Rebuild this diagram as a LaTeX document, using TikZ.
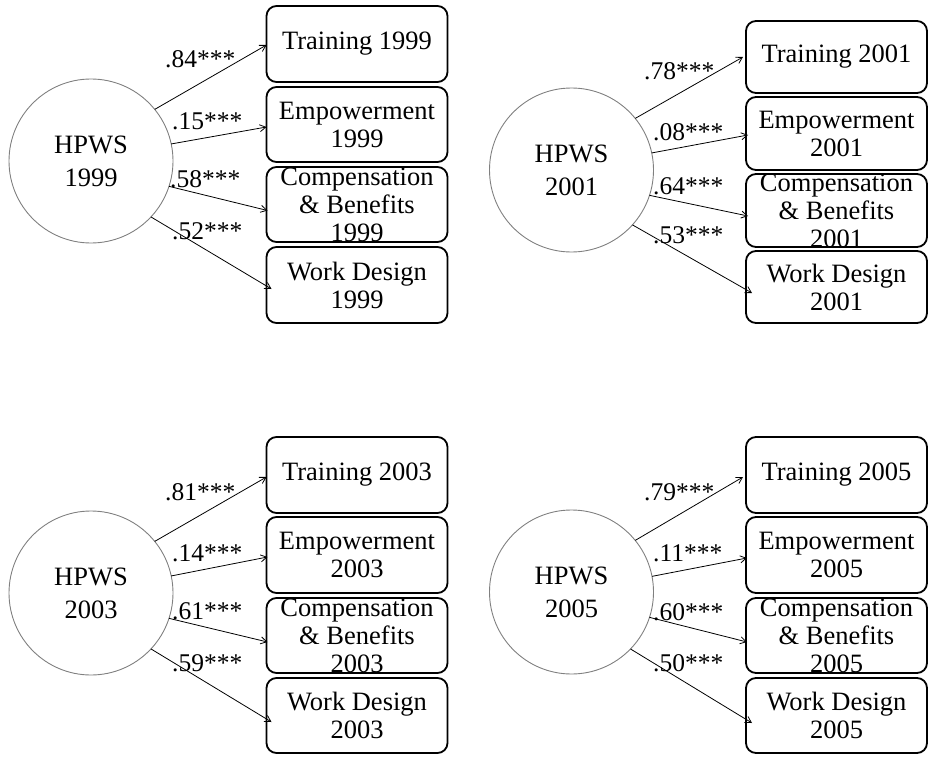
\documentclass[tikz,border=0pt]{standalone}
\usepackage{fontspec}
\setmainfont{Liberation Serif}
\usetikzlibrary{arrows.meta}
\begin{document}
\begin{tikzpicture}[x=1pt,y=-1pt,
  latent/.style={circle, draw=black!50, line width=0.9pt, fill=white,
    minimum size=164pt, inner sep=0pt, outer sep=0pt},
  indicator/.style={draw, rounded corners=10pt, line width=1.8pt,
    minimum width=181pt, inner sep=0pt, outer sep=0pt},
  boxtext/.style={align=center, font=\fontsize{26.5}{28}\selectfont, inner sep=0pt},
  lattext/.style={align=center, font=\fontsize{26.5}{33}\selectfont, inner sep=0pt},
  coef/.style={anchor=base west, font=\fontsize{25.5}{28}\selectfont, inner sep=0pt},
  load/.style={-{Straight Barb[length=6pt,width=7pt]}, line width=0.8pt}
]
\useasboundingbox (0,0) rectangle (934,765);

% ---------- 1999 ----------
\node[latent] (p1c) at (91,161) {};
\node[lattext] (p1ct) at (p1c) {HPWS\\1999};
\node[indicator, minimum height=76pt] (p1t) at (357,44) {};
\node[indicator, minimum height=75pt] (p1e) at (357,124.5) {};
\node[indicator, minimum height=75pt] (p1k) at (357,204.5) {};
\node[indicator, minimum height=76pt] (p1w) at (357,285) {};
\node[boxtext] (p1tt) at (p1t) {Training 1999};
\node[boxtext] (p1et) at (p1e) {Empowerment\\1999};
\node[boxtext] (p1kt) at (p1k) {Compensation\\\& Benefits\\1999};
\node[boxtext] (p1wt) at (p1w) {Work Design\\1999};
\draw[load] (p1c.39) -- ([yshift=-1pt]p1t.west);
\draw[load] (p1c.12) -- ([yshift=-2.5pt]p1e.west);
\draw[load] (p1c.-18) -- ([xshift=1pt,yshift=-6pt]p1k.west);
\draw[load] (p1c.-43) -- ([xshift=5pt,yshift=-4pt]p1w.west);
\node[coef] (p1l1) at (165,68) {.84***};
\node[coef] (p1l2) at (172,129) {.15***};
\node[coef] (p1l3) at (170,187) {.58***};
\node[coef] (p1l4) at (172,239) {.52***};

% ---------- 2001 ----------
\node[latent] (p2c) at (571.5,170) {};
\node[lattext] (p2ct) at (p2c) {HPWS\\2001};
\node[indicator, minimum height=72pt] (p2t) at (836.5,57) {};
\node[indicator, minimum height=73pt] (p2e) at (836.5,133.5) {};
\node[indicator, minimum height=73pt] (p2k) at (836.5,210.5) {};
\node[indicator, minimum height=72pt] (p2w) at (836.5,287) {};
\node[boxtext] (p2tt) at (p2t) {Training 2001};
\node[boxtext] (p2et) at (p2e) {Empowerment\\2001};
\node[boxtext] (p2kt) at (p2k) {Compensation\\\& Benefits\\2001};
\node[boxtext] (p2wt) at (p2w) {Work Design\\2001};
\draw[load] (p2c.39) -- ([xshift=-3pt]p2t.west);
\draw[load] (p2c.12) -- ([xshift=2pt,yshift=-1.5pt]p2e.west);
\draw[load] (p2c.-18) -- ([xshift=2pt,yshift=-5.5pt]p2k.west);
\draw[load] (p2c.-42) -- ([xshift=6pt,yshift=-6pt]p2w.west);
\node[coef] (p2l1) at (644,80) {.78***};
\node[coef] (p2l2) at (653,140) {.08***};
\node[coef] (p2l3) at (653,194) {.64***};
\node[coef] (p2l4) at (653,243) {.53***};

% ---------- 2003 ----------
\node[latent] (p3c) at (91,593) {};
\node[lattext] (p3ct) at (p3c) {HPWS\\2003};
\node[indicator, minimum height=76pt] (p3t) at (357,475) {};
\node[indicator, minimum height=76pt] (p3e) at (357,555) {};
\node[indicator, minimum height=75pt] (p3k) at (357,635.5) {};
\node[indicator, minimum height=75pt] (p3w) at (357,715.5) {};
\node[boxtext] (p3tt) at (p3t) {Training 2003};
\node[boxtext] (p3et) at (p3e) {Empowerment\\2003};
\node[boxtext] (p3kt) at (p3k) {Compensation\\\& Benefits\\2003};
\node[boxtext] (p3wt) at (p3w) {Work Design\\2003};
\draw[load] (p3c.39) -- ([yshift=-2pt]p3t.west);
\draw[load] (p3c.12) -- ([xshift=1pt,yshift=-2pt]p3e.west);
\draw[load] (p3c.-18) -- ([xshift=1pt,yshift=-6.5pt]p3k.west);
\draw[load] (p3c.-43) -- ([xshift=5pt,yshift=-6.5pt]p3w.west);
\node[coef] (p3l1) at (165,500) {.81***};
\node[coef] (p3l2) at (172,561) {.14***};
\node[coef] (p3l3) at (172,619) {.61***};
\node[coef] (p3l4) at (172,671) {.59***};

% ---------- 2005 ----------
\node[latent] (p4c) at (571.5,592) {};
\node[lattext] (p4ct) at (p4c) {HPWS\\2005};
\node[indicator, minimum height=76pt] (p4t) at (836.5,475) {};
\node[indicator, minimum height=76pt] (p4e) at (836.5,555) {};
\node[indicator, minimum height=75pt] (p4k) at (836.5,635.5) {};
\node[indicator, minimum height=75pt] (p4w) at (836.5,715.5) {};
\node[boxtext] (p4tt) at (p4t) {Training 2005};
\node[boxtext] (p4et) at (p4e) {Empowerment\\2005};
\node[boxtext] (p4kt) at (p4k) {Compensation\\\& Benefits\\2005};
\node[boxtext] (p4wt) at (p4w) {Work Design\\2005};
\draw[load] (p4c.39) -- ([xshift=-3pt,yshift=-2pt]p4t.west);
\draw[load] (p4c.11) -- ([xshift=1pt,yshift=-3pt]p4e.west);
\draw[load] (p4c.-18) -- ([xshift=1pt,yshift=-6.5pt]p4k.west);
\draw[load] (p4c.-44) -- ([xshift=6pt,yshift=-7.5pt]p4w.west);
\node[coef] (p4l1) at (644,500) {.79***};
\node[coef] (p4l2) at (653,561) {.11***};
\node[coef] (p4l3) at (653,620) {.60***};
\node[coef] (p4l4) at (653,671) {.50***};
\end{tikzpicture}
\end{document}
